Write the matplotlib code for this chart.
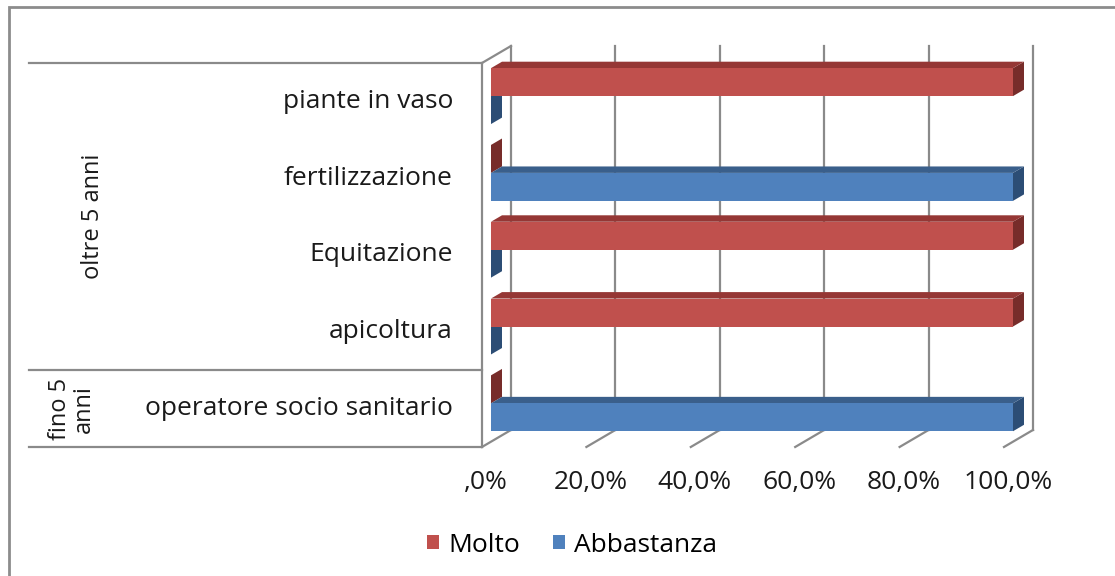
import matplotlib
matplotlib.use("Agg")
import matplotlib.pyplot as plt
from matplotlib.patches import Polygon, Rectangle, Patch
from matplotlib.lines import Line2D
from matplotlib.transforms import IdentityTransform

categories = ["piante in vaso", "fertilizzazione", "Equitazione", "apicoltura",
              "operatore socio sanitario"]
groups = ["oltre 5 anni", "fino 5\nanni"]
group_span = [(0, 3), (4, 4)]
molto = [100.0, 0.0, 100.0, 100.0, 0.0]
abbastanza = [0.0, 100.0, 0.0, 0.0, 100.0]
series = ["Molto", "Abbastanza"]
ticks = [0, 20, 40, 60, 80, 100]
tick_labels = [",0%", "20,0%", "40,0%", "60,0%", "80,0%", "100,0%"]

plt.rcParams['font.family'] = ['Open Sans', 'DejaVu Sans']
FS = 19

red = "#C0504D"; red_top = "#953735"; red_side = "#772C2A"
blue = "#4F81BD"; blue_top = "#3A5F8B"; blue_side = "#2C4D75"
grid_c = "#8a8a8a"

W, H = 1115, 576
fig = plt.figure(figsize=(W / 100, H / 100), dpi=100)
ax = fig.add_axes([491 / W, (H - 441.7) / H, 522 / W, 384 / H])
n = len(categories)
ax.set_xlim(0, 100)
ax.set_ylim(n - 0.5, -0.5)
ax.axis("off")

# depth vector (pixels) for the fake 3d
DX, DY = 29, 17
d_front, d_bar, d_back = -9 / 29, 11 / 29, 20 / 29
bh = 0.364


def proj(x, y, d):
    px, py = ax.transData.transform((x, y))
    return (px + d * DX, py + d * DY)


def line(p0, p1, **kw):
    ax.add_line(Line2D([p0[0], p1[0]], [p0[1], p1[1]], transform=IdentityTransform(),
                       clip_on=False, color=grid_c, lw=1.6, **kw))


def poly(pts, fc, z):
    ax.add_patch(Polygon(pts, closed=True, transform=IdentityTransform(), clip_on=False,
                         fc=fc, ec="none", zorder=z))


ytop, ybot = -0.5, n - 0.5
# back wall gridlines + floor ticks
for t in ticks:
    line(proj(t, ybot, d_back), proj(t, ytop, d_back), zorder=1)
    line(proj(t, ybot, d_front), proj(t, ybot, d_back), zorder=1)
# left wall
line(proj(0, ytop, d_front), proj(0, ybot, d_front), zorder=1)
line(proj(0, ytop, d_front), proj(0, ytop, d_back), zorder=1)

# category table lines
xl = 29
for yb in [ytop, group_span[0][1] + 0.5, ybot]:
    p = proj(0, yb, d_front)
    line((xl, p[1]), p, zorder=1)

# bars
ys = list(range(n))
for vals, off, cf, ct, cs in [(molto, -bh / 2, red, red_top, red_side),
                              (abbastanza, bh / 2, blue, blue_top, blue_side)]:
    for i, v in enumerate(vals):
        y0 = i + off - bh / 2
        y1 = i + off + bh / 2
        # side face
        poly([proj(v, y0, 0), proj(v, y1, 0), proj(v, y1, d_bar), proj(v, y0, d_bar)], cs, 2)
        # top face
        if v > 0:
            poly([proj(0, y0, 0), proj(v, y0, 0), proj(v, y0, d_bar), proj(0, y0, d_bar)], ct, 3)
    ax.barh([y + off for y in ys], vals, height=bh, color=cf, zorder=4)

# category labels
for i, c in enumerate(categories):
    p = proj(0, i, d_front)
    ax.text(453, p[1], c, transform=IdentityTransform(), ha="right", va="center",
            fontsize=FS, color="#1a1a1a")

# group labels
for g, (a, b), gx in zip(groups, group_span, [93, 72]):
    p = proj(0, (a + b) / 2, d_front)
    ax.text(gx, p[1], g, transform=IdentityTransform(), ha="center", va="center",
            rotation=90, fontsize=17, color="#1a1a1a", linespacing=1.0)

# x tick labels
for t, lab in zip(ticks, tick_labels):
    p = proj(t, ybot, d_front)
    ax.text(p[0] + 4, p[1] - 36, lab, transform=IdentityTransform(), ha="center",
            va="center", fontsize=FS, color="#1a1a1a")

handles = [Patch(fc=red, ec="none"), Patch(fc=blue, ec="none")]
fig.legend(handles, series, loc="center", bbox_to_anchor=(572 / W, 1 - 545 / H),
           ncol=2, frameon=False, fontsize=FS, handlelength=0.45, handleheight=0.45,
           handletextpad=0.35, columnspacing=1.25)

fig.add_artist(Rectangle((9 / W, -0.1), 1.2, 1 - 7 / H + 0.1, transform=fig.transFigure,
                         fill=False, ec="#8c8c8c", lw=2))

fig.savefig("out.png", dpi=100, facecolor="white")
